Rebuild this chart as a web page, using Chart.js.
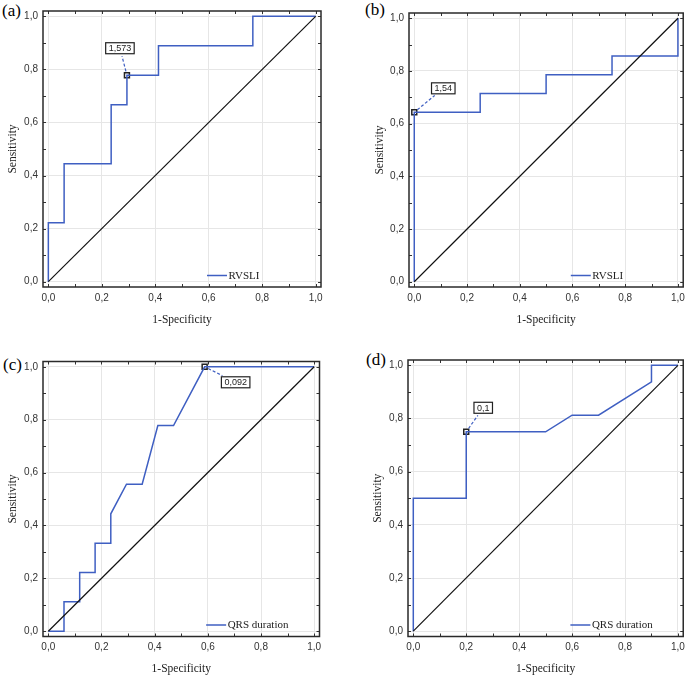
<!DOCTYPE html>
<html>
<head>
<meta charset="utf-8">
<script src="https://cdn.jsdelivr.net/npm/chart.js@4.4.1/dist/chart.umd.min.js"></script>
<style>
  body { margin: 0; background: #fff; }
  #wrap { position: relative; width: 690px; height: 677px; overflow: hidden; }
  canvas { position: absolute; }
  .tag { position: absolute; font-family: "Liberation Serif", "Times New Roman", serif; font-size: 17px; color: #000; line-height: 1; }
</style>
</head>
<body>
<div id="wrap">
  <div class="tag" style="left:2px;top:2px">(a)</div>
  <div class="tag" style="left:365px;top:1px">(b)</div>
  <div class="tag" style="left:3px;top:356px">(c)</div>
  <div class="tag" style="left:366px;top:351px">(d)</div>
</div>
<script>
// axis ticks (every 0.1, labelled every 0.2)
const tickValues = [0, 0.1, 0.2, 0.3, 0.4, 0.5, 0.6, 0.7, 0.8, 0.9, 1.0];

// (a) RVSLI
const fprA = [0, 0, 0.059, 0.059, 0.235, 0.235, 0.294, 0.294, 0.412, 0.412, 0.765, 0.765, 1];
const tprA = [0, 0.222, 0.222, 0.444, 0.444, 0.667, 0.667, 0.778, 0.778, 0.889, 0.889, 1, 1];

// (b) RVSLI
const fprB = [0, 0, 0.25, 0.25, 0.5, 0.5, 0.75, 0.75, 1, 1];
const tprB = [0, 0.643, 0.643, 0.714, 0.714, 0.786, 0.786, 0.857, 0.857, 1];

// (c) QRS duration
const fprC = [0, 0.059, 0.059, 0.118, 0.118, 0.176, 0.176, 0.235, 0.235, 0.294, 0.353, 0.412, 0.471, 0.588, 1];
const tprC = [0, 0, 0.111, 0.111, 0.222, 0.222, 0.333, 0.333, 0.444, 0.556, 0.556, 0.778, 0.778, 1, 1];

// (d) QRS duration
const fprD = [0, 0, 0.2, 0.2, 0.5, 0.6, 0.7, 0.9, 0.9, 1];
const tprD = [0, 0.5, 0.5, 0.75, 0.75, 0.8125, 0.8125, 0.9375, 1, 1];

const seriesNames = ["RVSLI", "RVSLI", "QRS duration", "QRS duration"];
const cutX = [0.294, 0, 0.588, 0.2];
const cutY = [0.778, 0.643, 1.0, 0.75];
const cutText = ["1,573", "1,54", "0,092", "0,1"];

const blue = "#3f5fc2";

// page layout of each panel
const panels = [
  { fpr: fprA, tpr: tprA, canvas: { x: 0, y: 0, w: 345, h: 335 }, area: { l: 43, t: 10, r: 321, b: 287 }, yTitleX: 13, xTitleY: 320, callout: [-7, -27] },
  { fpr: fprB, tpr: tprB, canvas: { x: 345, y: 0, w: 345, h: 335 }, area: { l: 409, t: 13, r: 687, b: 287 }, yTitleX: 380, xTitleY: 320, callout: [29, -24] },
  { fpr: fprC, tpr: tprC, canvas: { x: 0, y: 335, w: 345, h: 342 }, area: { l: 43, t: 361.5, r: 319.5, b: 636.5 }, yTitleX: 13, xTitleY: 669, callout: [31, 15.5] },
  { fpr: fprD, tpr: tprD, canvas: { x: 345, y: 335, w: 345, h: 342 }, area: { l: 408, t: 360, r: 686, b: 636.5 }, yTitleX: 378, xTitleY: 669, callout: [17, -24] },
];

const titleFont = { family: "'Liberation Serif', 'Times New Roman', serif", size: 11.5 };
const tickFont = { family: "'Liberation Sans', Arial, sans-serif", size: 10 };

function isMajor(v) {
  return Math.round(v * 10) % 2 === 0;
}

const rocDecor = {
  id: "rocDecor",
  afterDraw(chart, args, opts) {
    const ctx = chart.ctx;
    const a = chart.chartArea;
    const xs = chart.scales.x;
    const ys = chart.scales.y;
    ctx.save();

    // small inward tick marks on all four sides
    ctx.strokeStyle = "#333";
    ctx.lineWidth = 1;
    ctx.beginPath();
    tickValues.forEach((v) => {
      const px = Math.round(xs.getPixelForValue(v)) + 0.5;
      const py = Math.round(ys.getPixelForValue(v)) + 0.5;
      ctx.moveTo(px, a.bottom); ctx.lineTo(px, a.bottom - 3);
      ctx.moveTo(px, a.top); ctx.lineTo(px, a.top + 3);
      ctx.moveTo(a.left, py); ctx.lineTo(a.left + 3, py);
      ctx.moveTo(a.right, py); ctx.lineTo(a.right - 3, py);
    });
    ctx.stroke();

    // frame
    ctx.strokeStyle = "#2a2a2a";
    ctx.lineWidth = 1.5;
    ctx.strokeRect(a.left, a.top, a.right - a.left, a.bottom - a.top);

    // legend inside plot, bottom right
    const lx = a.left + 0.59 * (a.right - a.left);
    const ly = a.bottom - 11.5;
    ctx.strokeStyle = blue;
    ctx.lineWidth = 1.5;
    ctx.beginPath();
    ctx.moveTo(lx, ly); ctx.lineTo(lx + 20, ly);
    ctx.stroke();
    ctx.fillStyle = "#222";
    ctx.font = "11px 'Liberation Serif', 'Times New Roman', serif";
    ctx.textBaseline = "middle";
    ctx.textAlign = "left";
    ctx.fillText(chart.data.datasets[1].label, lx + 21.5, ly + 0.5);

    // cut-off callout: dashed leader + boxed label
    const mx = xs.getPixelForValue(opts.cx);
    const my = ys.getPixelForValue(opts.cy);
    const bx = mx + opts.dx;
    const by = my + opts.dy;
    ctx.font = "9px 'Liberation Sans', Arial, sans-serif";
    const tw = ctx.measureText(opts.text).width;
    const hw = tw / 2 + 3;
    const hh = 5.5;
    const len = Math.hypot(opts.dx, opts.dy);
    const ux = opts.dx / len;
    const uy = opts.dy / len;
    const tEdge = Math.min(Math.abs(ux) > 1e-6 ? hw / Math.abs(ux) : 1e9, Math.abs(uy) > 1e-6 ? hh / Math.abs(uy) : 1e9);
    ctx.strokeStyle = blue;
    ctx.lineWidth = 1.2;
    ctx.setLineDash([3, 2]);
    ctx.beginPath();
    ctx.moveTo(mx + ux * 4, my + uy * 4);
    ctx.lineTo(bx - ux * (tEdge + 2.5), by - uy * (tEdge + 2.5));
    ctx.stroke();
    ctx.setLineDash([]);
    ctx.fillStyle = "#fff";
    ctx.fillRect(bx - hw, by - hh, hw * 2, hh * 2);
    ctx.strokeStyle = "#222";
    ctx.lineWidth = 1.2;
    ctx.strokeRect(bx - hw, by - hh, hw * 2, hh * 2);
    ctx.fillStyle = "#222";
    ctx.textAlign = "center";
    ctx.textBaseline = "middle";
    ctx.fillText(opts.text, bx, by + 0.5);

    ctx.restore();
  },
};

const wrap = document.getElementById("wrap");

panels.forEach((p, i) => {
  const c = p.canvas;
  const canvas = document.createElement("canvas");
  canvas.width = c.w;
  canvas.height = c.h;
  canvas.style.left = c.x + "px";
  canvas.style.top = c.y + "px";
  canvas.style.width = c.w + "px";
  canvas.style.height = c.h + "px";
  wrap.appendChild(canvas);

  const lh = titleFont.size * 1.2;
  const yw = p.area.l - c.x;
  const xh = p.xTitleY + lh / 2 - p.area.b;

  const curve = p.fpr.map((x, k) => ({ x: x, y: p.tpr[k] }));

  new Chart(canvas.getContext("2d"), {
    type: "scatter",
    data: {
      datasets: [
        {
          label: "ref",
          data: [{ x: 0, y: 0 }, { x: 1, y: 1 }],
          showLine: true,
          borderColor: "#111",
          borderWidth: 1.2,
          pointRadius: 0,
        },
        {
          label: seriesNames[i],
          data: curve,
          showLine: true,
          borderColor: blue,
          borderWidth: 1.5,
          pointRadius: 0,
        },
        {
          label: "cut",
          data: [{ x: cutX[i], y: cutY[i] }],
          pointStyle: "rect",
          pointRadius: 3.5,
          pointBorderWidth: 1.5,
          pointBorderColor: "#222",
          pointBackgroundColor: "#fff",
        },
      ],
    },
    options: {
      responsive: false,
      animation: false,
      layout: {
        padding: {
          left: 0,
          top: p.area.t - c.y,
          right: c.x + c.w - p.area.r,
          bottom: c.y + c.h - p.area.b - xh,
        },
      },
      plugins: {
        legend: { display: false },
        tooltip: { enabled: false },
        rocDecor: { cx: cutX[i], cy: cutY[i], text: cutText[i], dx: p.callout[0], dy: p.callout[1] },
      },
      scales: {
        x: {
          type: "linear",
          min: -0.02,
          max: 1.02,
          afterBuildTicks: (s) => { s.ticks = tickValues.map((v) => ({ value: v })); },
          afterFit: (s) => { s.height = xh; },
          border: { display: false },
          grid: {
            drawTicks: false,
            color: (ctx) => (isMajor(ctx.tick.value) ? "#e6e6e6" : "rgba(0,0,0,0)"),
          },
          ticks: {
            padding: 5,
            color: "#333",
            font: tickFont,
            maxRotation: 0,
            autoSkip: false,
            callback: (v) => (isMajor(v) ? v.toFixed(1).replace(".", ",") : ""),
          },
          title: {
            display: true,
            text: "1-Specificity",
            color: "#222",
            font: titleFont,
            padding: { top: 0, bottom: 0 },
          },
        },
        y: {
          type: "linear",
          min: -0.02,
          max: 1.02,
          afterBuildTicks: (s) => { s.ticks = tickValues.map((v) => ({ value: v })); },
          afterFit: (s) => { s.width = yw; },
          border: { display: false },
          grid: {
            drawTicks: false,
            color: (ctx) => (isMajor(ctx.tick.value) ? "#e6e6e6" : "rgba(0,0,0,0)"),
          },
          ticks: {
            padding: 5,
            color: "#333",
            font: tickFont,
            autoSkip: false,
            callback: (v) => (isMajor(v) ? v.toFixed(1).replace(".", ",") : ""),
          },
          title: {
            display: true,
            text: "Sensitivity",
            color: "#222",
            font: titleFont,
            padding: { top: p.yTitleX - c.x - lh / 2, bottom: 0 },
          },
        },
      },
    },
    plugins: [rocDecor],
  });
});
</script>
</body>
</html>
